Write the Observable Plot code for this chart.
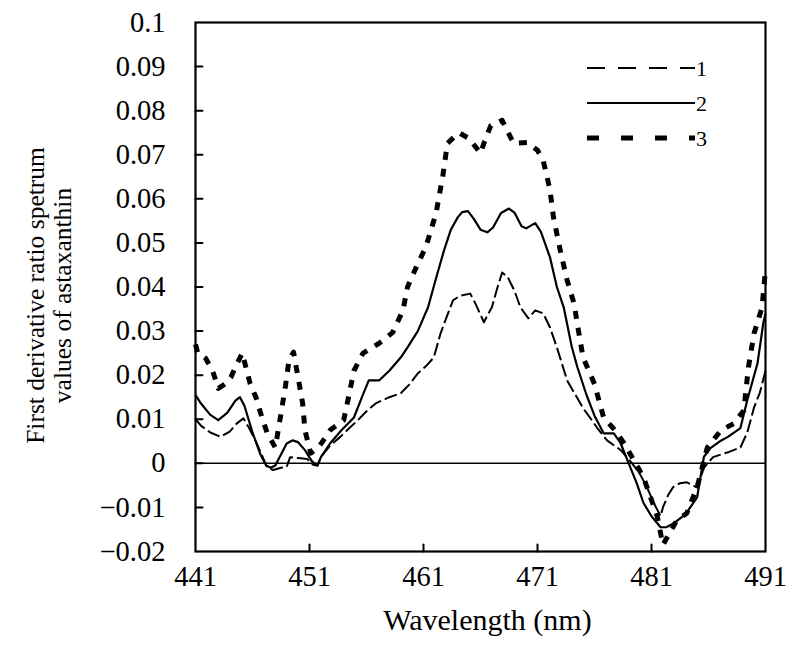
<!DOCTYPE html>
<html><head><meta charset="utf-8">
<script src="https://cdn.jsdelivr.net/npm/d3@7"></script>
<script src="https://cdn.jsdelivr.net/npm/@observablehq/plot@0.6"></script>
<style>
html,body{margin:0;padding:0;background:#fff;}
#chart{position:relative;width:800px;height:656px;}
#chart svg{position:absolute;left:0;top:0;}
</style></head><body><div id="chart"></div>
<script>
// ---- data ----
const xDomain = [441, 491];
const yDomain = [-0.02, 0.1];
const xTicks = [441, 451, 461, 471, 481, 491];
const yTicks = [0.1, 0.09, 0.08, 0.07, 0.06, 0.05, 0.04, 0.03, 0.02, 0.01, 0, -0.01, -0.02];
const xLabel = "Wavelength (nm)";
const yLabel = "First derivative ratio spetrum\nvalues of astaxanthin";
const seriesNames = ["1", "2", "3"];

const s1x = [441.0,441.5,442.3,443.2,444.0,444.6,445.2,445.7,446.2,446.8,447.3,447.8,448.5,449.0,449.3,450.0,450.8,451.3,451.7,452.0,452.8,453.7,454.5,455.2,456.0,456.8,458.0,459.0,459.8,460.5,461.2,461.9,462.5,463.0,463.6,464.2,465.1,465.6,466.3,466.7,467.0,467.5,467.9,468.4,469.0,469.5,470.2,470.8,471.5,472.1,472.7,473.6,474.0,475.0,475.6,476.3,477.1,478.3,479.3,480.0,480.6,481.2,481.8,482.0,482.5,482.9,483.5,484.1,485.0,485.6,486.4,487.7,488.8,489.4,490.0,490.5,491.0];
const s1y = [0.010,0.0085,0.007,0.006,0.0072,0.009,0.0102,0.008,0.0055,0.002,-0.001,-0.0015,-0.001,-0.0008,0.0014,0.0012,0.001,-0.0003,-0.0005,0.0014,0.004,0.006,0.008,0.0097,0.0118,0.0136,0.015,0.0159,0.018,0.0204,0.022,0.024,0.0295,0.033,0.037,0.038,0.0385,0.036,0.032,0.034,0.0354,0.040,0.0433,0.0422,0.039,0.0354,0.0329,0.0347,0.034,0.0308,0.0263,0.0188,0.017,0.0125,0.0104,0.0078,0.0052,0.003,0.0,-0.0025,-0.0054,-0.009,-0.012,-0.010,-0.007,-0.0054,-0.0045,-0.0043,-0.0055,-0.001,0.0014,0.0025,0.0036,0.007,0.0127,0.016,0.021];

const s2x = [441.0,441.5,442.3,443.0,443.8,444.5,444.9,445.3,446.0,446.7,447.2,447.6,448.0,448.5,449.0,449.5,450.0,450.6,451.2,451.7,452.0,452.8,453.8,454.9,455.6,456.2,457.1,458.0,459.0,459.6,460.5,461.4,462.1,462.8,463.4,464.0,464.4,464.9,465.4,466.0,466.6,467.1,467.8,468.5,469.0,469.6,470.0,470.8,471.3,472.1,472.7,473.3,474.0,474.5,475.3,476.0,476.8,477.7,478.3,479.0,479.7,480.3,481.0,481.8,482.3,483.0,484.0,485.0,485.6,486.2,487.0,487.7,488.8,489.4,490.3,490.8,491.0];
const s2y = [0.0155,0.0135,0.011,0.0098,0.0115,0.0142,0.0150,0.013,0.007,0.002,-0.0005,-0.001,-0.0005,0.002,0.0045,0.0052,0.0048,0.003,0.0005,-0.0005,0.0014,0.0045,0.0075,0.0104,0.015,0.0188,0.0188,0.021,0.024,0.0263,0.030,0.0354,0.042,0.0483,0.053,0.0558,0.057,0.0572,0.0555,0.053,0.0524,0.0535,0.0568,0.0578,0.0568,0.0538,0.0533,0.0545,0.0525,0.0467,0.040,0.0354,0.0265,0.0218,0.0155,0.0108,0.0068,0.0068,0.0045,0.0,-0.0045,-0.009,-0.012,-0.0145,-0.0145,-0.0135,-0.0115,-0.0077,0.0015,0.0035,0.005,0.006,0.008,0.0143,0.0227,0.0317,0.034];

const s3x = [441.0,441.2,441.9,442.5,443.0,443.6,444.1,444.5,445.1,445.8,446.3,446.9,447.3,448.0,448.5,448.9,449.2,449.6,450.0,450.4,450.6,451.1,451.8,452.8,454.0,454.4,454.9,455.7,457.1,458.3,459.2,459.6,460.5,461.2,462.1,462.7,463.1,464.1,465.0,466.0,466.3,466.9,467.9,468.9,470.1,471.0,471.5,472.1,472.4,473.0,473.6,474.2,474.6,475.0,476.0,476.8,477.8,478.6,479.6,480.3,481.5,482.0,483.2,484.1,485.0,485.9,487.1,488.2,489.1,489.5,490.0,490.7,491.0];
const s3y = [0.027,0.025,0.0238,0.021,0.017,0.018,0.0195,0.0218,0.025,0.018,0.015,0.0098,0.0068,0.0036,0.0113,0.0177,0.0234,0.0252,0.0195,0.0136,0.0075,0.0023,0.0036,0.0075,0.0098,0.0147,0.021,0.025,0.0272,0.0297,0.0347,0.040,0.0453,0.049,0.0567,0.0653,0.0726,0.075,0.0737,0.0703,0.0726,0.0766,0.0778,0.0726,0.0728,0.071,0.0687,0.062,0.0558,0.0483,0.0415,0.0363,0.030,0.024,0.018,0.0104,0.0075,0.0045,0.0,-0.0032,-0.012,-0.0185,-0.013,-0.0113,-0.0054,0.0036,0.0075,0.009,0.012,0.0218,0.0295,0.0354,0.044];

// ---- styles ----
const font = "'Liberation Serif','Times New Roman',serif";
const styles = [
  {width: 2, dash: "13,4"},
  {width: 2.2, dash: null},
  {width: 5, dash: "8,9"}
];
const toRows = (xs, ys) => xs.map((x, i) => ({x, y: ys[i]}));
const series = [toRows(s1x, s1y), toRows(s2x, s2y), toRows(s3x, s3y)];

const tickShapeUp = {draw(ctx, l) { ctx.moveTo(0, 0); ctx.lineTo(0, -l); }};
const fmtY = d => d === 0 ? "0" : (d < 0 ? "\u2212" : "") + String(+Math.abs(d).toFixed(2));

const chart = Plot.plot({
  width: 800, height: 656,
  marginLeft: 195, marginRight: 35, marginTop: 22, marginBottom: 105,
  style: {fontFamily: font, fontSize: "28.5px", background: "#fff", color: "#000"},
  x: {domain: xDomain, ticks: xTicks, tickSize: 0, tickPadding: 14, label: null, tickFormat: d => String(d)},
  y: {domain: yDomain, ticks: yTicks, tickSize: 0, tickPadding: 30, label: null, tickFormat: fmtY},
  marks: [
    Plot.ruleY([0], {stroke: "#000", strokeWidth: 1.5}),
    ...series.map((rows, i) => Plot.line(rows, {
      x: "x", y: "y", stroke: "#000", strokeWidth: styles[i].width,
      strokeDasharray: styles[i].dash, strokeLinecap: "butt", strokeLinejoin: "round"
    })),
    Plot.vector(yTicks.slice(1, -1), {x: () => xDomain[0], y: d => d, length: 7, rotate: 90, anchor: "start", shape: tickShapeUp, stroke: "#000", strokeWidth: 2}),
    Plot.vector(xTicks.slice(1, -1), {x: d => d, y: () => yDomain[0], length: 7, rotate: 0, anchor: "start", shape: tickShapeUp, stroke: "#000", strokeWidth: 2}),
    Plot.frame({stroke: "#000", strokeWidth: 2.2}),
    Plot.text([xLabel], {frameAnchor: "bottom", text: d => d, dx: 7, dy: 69, lineAnchor: "middle", textAnchor: "middle", fontSize: 30, fill: "#000"}),
    Plot.text([yLabel], {frameAnchor: "left", text: d => d, dx: -146.5, dy: 8.5, rotate: -90, lineAnchor: "middle", textAnchor: "middle", lineHeight: 1.06, fontSize: 25.5, fill: "#000"})
  ]
});
const container = document.getElementById("chart");
container.appendChild(chart);

// ---- legend overlay ----
const leg = d3.select(container).append("svg").attr("width", 800).attr("height", 656)
  .style("pointer-events", "none");
const legY = [68, 103, 138];
seriesNames.forEach((name, i) => {
  leg.append("line").attr("x1", 587).attr("x2", 695).attr("y1", legY[i]).attr("y2", legY[i])
    .attr("stroke", "#000").attr("stroke-width", i === 2 ? 5 : 2.2)
    .attr("stroke-dasharray", i === 0 ? "18,13" : i === 2 ? "12,22" : null);
  leg.append("text").attr("x", 696).attr("y", legY[i]).attr("dy", "0.35em")
    .attr("font-family", font).attr("font-size", 22).text(name);
});
</script>
</body></html>
